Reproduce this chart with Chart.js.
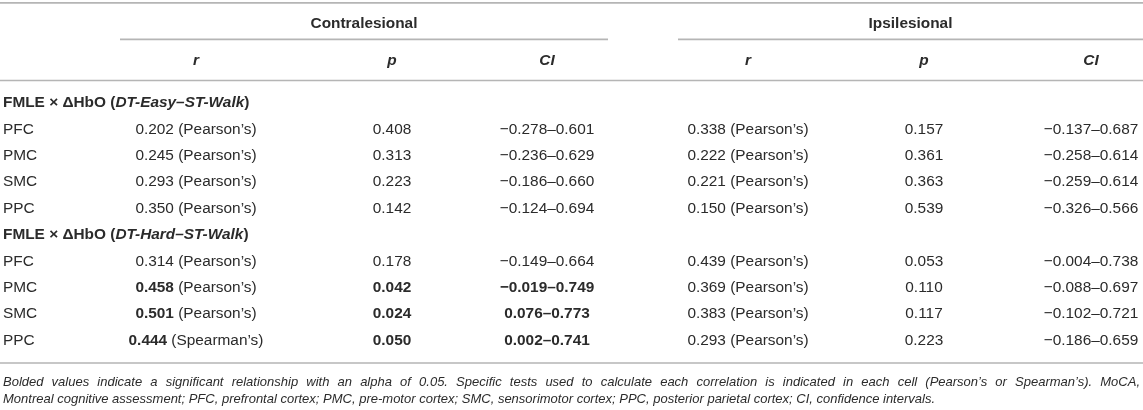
<!DOCTYPE html>
<html>
<head>
<meta charset="utf-8">
<script src="https://cdn.jsdelivr.net/npm/chart.js@4.4.1/dist/chart.umd.min.js"></script>
<style>
  html, body { margin: 0; padding: 0; background: #fff; }
  #wrap { width: 1143px; height: 410px; }
</style>
</head>
<body>
<div id="wrap"><canvas id="table" width="1143" height="410"></canvas></div>
<script>
// ---- table data ----
const regions = ["PFC", "PMC", "SMC", "PPC"];
const groupTitles = ["Contralesional", "Ipsilesional"];
const colTitles = ["r", "p", "CI"];
const sectionTasks = ["DT-Easy\u2013ST-Walk", "DT-Hard\u2013ST-Walk"];

// DT-Easy - ST-Walk
const easyContraR = [0.202, 0.245, 0.293, 0.350];
const easyContraTest = ["Pearson", "Pearson", "Pearson", "Pearson"];
const easyContraP = [0.408, 0.313, 0.223, 0.142];
const easyContraLo = [-0.278, -0.236, -0.186, -0.124];
const easyContraHi = [0.601, 0.629, 0.660, 0.694];

const easyIpsiR = [0.338, 0.222, 0.221, 0.150];
const easyIpsiTest = ["Pearson", "Pearson", "Pearson", "Pearson"];
const easyIpsiP = [0.157, 0.361, 0.363, 0.539];
const easyIpsiLo = [-0.137, -0.258, -0.259, -0.326];
const easyIpsiHi = [0.687, 0.614, 0.614, 0.566];

// DT-Hard - ST-Walk
const hardContraR = [0.314, 0.458, 0.501, 0.444];
const hardContraTest = ["Pearson", "Pearson", "Pearson", "Spearman"];
const hardContraP = [0.178, 0.042, 0.024, 0.050];
const hardContraLo = [-0.149, -0.019, 0.076, 0.002];
const hardContraHi = [0.664, 0.749, 0.773, 0.741];

const hardIpsiR = [0.439, 0.369, 0.383, 0.293];
const hardIpsiTest = ["Pearson", "Pearson", "Pearson", "Pearson"];
const hardIpsiP = [0.053, 0.110, 0.117, 0.223];
const hardIpsiLo = [-0.004, -0.088, -0.102, -0.186];
const hardIpsiHi = [0.738, 0.697, 0.721, 0.659];

const alpha = 0.05;

const footnoteLines = [
  "Bolded values indicate a significant relationship with an alpha of 0.05. Specific tests used to calculate each correlation is indicated in each cell (Pearson\u2019s or Spearman\u2019s). MoCA,",
  "Montreal cognitive assessment; PFC, prefrontal cortex; PMC, pre-motor cortex; SMC, sensorimotor cortex; PPC, posterior parietal cortex; CI, confidence intervals."
];

// ---- layout (pixels / row units) ----
const FONT = "'Liberation Sans', Arial, Helvetica, sans-serif";
const SIZE = 15.4;
const FOOT_SIZE = 13;
const TEXT = "#2b2b2b";
const RULE = "#b5b5b5";
const labelX = 3;
const colX = [196, 392, 547, 748, 924, 1091];   // centres of r,p,CI | r,p,CI
const groupSpan = [[120, 608], [678, 1143]];
const rowY = { group: -3.0, head: -1.6, top: -3.79, sub: -2.41, headRule: -0.85, bottom: 9.85, foot: [10.57, 11.22] };

// build block rows
function fmt(v) { return (v < 0 ? "\u2212" : "") + Math.abs(v).toFixed(3); }
function ci(lo, hi) { return fmt(lo) + "\u2013" + fmt(hi); }

const blocks = [
  { contra: [easyContraR, easyContraTest, easyContraP, easyContraLo, easyContraHi],
    ipsi: [easyIpsiR, easyIpsiTest, easyIpsiP, easyIpsiLo, easyIpsiHi] },
  { contra: [hardContraR, hardContraTest, hardContraP, hardContraLo, hardContraHi],
    ipsi: [hardIpsiR, hardIpsiTest, hardIpsiP, hardIpsiLo, hardIpsiHi] }
];

// one dataset per column; each point = one cell, positioned by the scales
const cellSets = [];
for (let c = 0; c < 6; c++) cellSets.push({ label: "col" + c, data: [], cells: [] });
const labelSet = { label: "labels", data: [], cells: [] };

blocks.forEach((b, bi) => {
  const base = bi * 5;
  labelSet.data.push({ x: labelX, y: base });
  labelSet.cells.push([
    { t: "FMLE \u00d7 \u0394HbO (", b: true },
    { t: sectionTasks[bi], b: true, i: true },
    { t: ")", b: true }
  ]);
  regions.forEach((reg, k) => {
    const y = base + 1 + k;
    labelSet.data.push({ x: labelX, y: y });
    labelSet.cells.push([{ t: reg }]);
    [b.contra, b.ipsi].forEach((side, si) => {
      const [R, T, P, LO, HI] = side;
      const sig = P[k] <= alpha;
      const c0 = si * 3;
      cellSets[c0].data.push({ x: colX[c0], y: y });
      cellSets[c0].cells.push([{ t: R[k].toFixed(3), b: sig }, { t: " (" + T[k] + "\u2019s)" }]);
      cellSets[c0 + 1].data.push({ x: colX[c0 + 1], y: y });
      cellSets[c0 + 1].cells.push([{ t: P[k].toFixed(3), b: sig }]);
      cellSets[c0 + 2].data.push({ x: colX[c0 + 2], y: y });
      cellSets[c0 + 2].cells.push([{ t: ci(LO[k], HI[k]), b: sig }]);
    });
  });
});

function fontOf(seg, size) {
  return (seg.i ? "italic " : "") + (seg.b ? "bold " : "") + size + "px " + FONT;
}
function drawRich(ctx, segs, x, y, align, size) {
  let w = 0;
  segs.forEach(s => { ctx.font = fontOf(s, size); w += ctx.measureText(s.t).width; });
  let cx = align === "center" ? x - w / 2 : x;
  segs.forEach(s => {
    ctx.font = fontOf(s, size);
    ctx.fillText(s.t, cx, y);
    cx += ctx.measureText(s.t).width;
  });
}

const tablePlugin = {
  id: "tablePlugin",
  afterDatasetsDraw(chart) {
    const ctx = chart.ctx;
    const xs = chart.scales.x, ys = chart.scales.y;
    ctx.save();
    ctx.textBaseline = "middle";
    ctx.fillStyle = TEXT;

    // rules
    ctx.strokeStyle = RULE;
    ctx.lineWidth = 1.6;
    const hline = (x0, x1, v) => {
      const py = ys.getPixelForValue(v);
      ctx.beginPath();
      ctx.moveTo(xs.getPixelForValue(x0), py);
      ctx.lineTo(xs.getPixelForValue(x1), py);
      ctx.stroke();
    };
    hline(0, 1143, rowY.top);
    groupSpan.forEach(g => hline(g[0], g[1], rowY.sub));
    hline(0, 1143, rowY.headRule);
    hline(0, 1143, rowY.bottom);

    // headers
    groupTitles.forEach((g, gi) => {
      const mid = (groupSpan[gi][0] + groupSpan[gi][1]) / 2;
      drawRich(ctx, [{ t: g, b: true }], xs.getPixelForValue(mid), ys.getPixelForValue(rowY.group), "center", SIZE);
    });
    colX.forEach((cx, c) => {
      drawRich(ctx, [{ t: colTitles[c % 3], b: true, i: true }], xs.getPixelForValue(cx), ys.getPixelForValue(rowY.head), "center", SIZE);
    });

    // cells, positioned from the dataset elements
    chart.data.datasets.forEach((ds, di) => {
      const meta = chart.getDatasetMeta(di);
      meta.data.forEach((pt, i) => {
        drawRich(ctx, ds.cells[i], pt.x, pt.y, ds.label === "labels" ? "left" : "center", SIZE);
      });
    });

    // footnote (first line justified)
    ctx.font = "italic " + FOOT_SIZE + "px " + FONT;
    const fx0 = xs.getPixelForValue(labelX), fx1 = xs.getPixelForValue(1140);
    footnoteLines.forEach((line, li) => {
      const py = ys.getPixelForValue(rowY.foot[li]);
      if (li === footnoteLines.length - 1) { ctx.fillText(line, fx0, py); return; }
      const words = line.split(" ");
      const ww = words.map(w => ctx.measureText(w).width);
      const gap = (fx1 - fx0 - ww.reduce((a, b) => a + b, 0)) / (words.length - 1);
      let cx = fx0;
      words.forEach((w, wi) => { ctx.fillText(w, cx, py); cx += ww[wi] + gap; });
    });
    ctx.restore();
  }
};

new Chart(document.getElementById("table"), {
  type: "scatter",
  data: { datasets: [labelSet].concat(cellSets) },
  options: {
    responsive: false,
    animation: false,
    devicePixelRatio: 1,
    layout: { padding: 0 },
    elements: { point: { radius: 0, hoverRadius: 0 } },
    scales: {
      x: { type: "linear", min: 0, max: 1143, display: false },
      y: { type: "linear", min: -3.9, max: 11.63, reverse: true, display: false }
    },
    plugins: { legend: { display: false }, tooltip: { enabled: false } }
  },
  plugins: [tablePlugin]
});
</script>
</body>
</html>
